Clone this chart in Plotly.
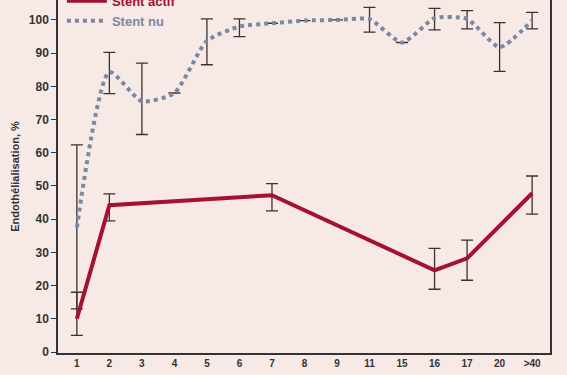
import plotly.graph_objects as go

categories = ["1", "2", "3", "4", "5", "6", "7", "8", "9", "11", "15", "16", "17", "20", ">40"]

# Stent actif (drug-eluting stent)
actif_vals = [10, 44.2, None, None, None, None, 47.2, None, None, None, None, 24.6, 28.2, None, 47.8]
actif_hi   = [18, 47.6, None, None, None, None, 50.7, None, None, None, None, 31.2, 33.7, None, 53.0]
actif_lo   = [5, 39.5, None, None, None, None, 42.5, None, None, None, None, 18.9, 21.6, None, 41.5]

# Stent nu (bare-metal stent)
nu_vals = [37.5, 84.3, 75.5, 78, 93.7, 98, 99, 99.8, 100, 100.2, 93.2, 100.5, 100.3, 91.8, 99.8]
nu_hi   = [62.4, 90.2, 87, None, 100.3, 100.3, None, None, None, 103.8, None, 103.5, 102.8, 99.2, 102.3]
nu_lo   = [13, 77.8, 65.5, None, 86.5, 95, None, None, None, 96.3, None, 97, 97.3, 84.5, 97.3]

RED = "#a3122f"
BLUE = "#7b88a3"
ERR = "#3d3131"
BG = "#f7e9e6"


def err_up(v, hi):
    return [None if (a is None or b is None) else b - a for a, b in zip(v, hi)]


def err_dn(v, lo):
    return [None if (a is None or b is None) else a - b for a, b in zip(v, lo)]


fig = go.Figure()

fig.add_trace(go.Scatter(
    x=categories, y=nu_vals, mode="lines",
    name="<b><span style='color:%s'>Stent nu</span></b>" % BLUE,
    line=dict(color=BLUE, width=4, dash="4px,4px", shape="spline", smoothing=0.6),
    error_y=dict(type="data", symmetric=False,
                 array=err_up(nu_vals, nu_hi), arrayminus=err_dn(nu_vals, nu_lo),
                 color=ERR, thickness=1.3, width=6),
    legendrank=2,
))

fig.add_trace(go.Scatter(
    x=categories, y=actif_vals, mode="lines", connectgaps=True,
    name="<b><span style='color:%s'>Stent actif</span></b>" % RED,
    line=dict(color=RED, width=4),
    error_y=dict(type="data", symmetric=False,
                 array=err_up(actif_vals, actif_hi), arrayminus=err_dn(actif_vals, actif_lo),
                 color=ERR, thickness=1.3, width=6),
    legendrank=1,
))

fig.update_layout(
    width=567, height=375,
    margin=dict(l=58, r=17, t=0, b=22, autoexpand=False),
    paper_bgcolor=BG, plot_bgcolor=BG,
    font=dict(family="Liberation Sans", color="#333333"),
    showlegend=True,
    legend=dict(x=0.008, y=1.04, xanchor="left", yanchor="top",
                bgcolor="rgba(0,0,0,0)", font=dict(size=13, family="Liberation Sans"),
                tracegroupgap=0, itemwidth=40),
    xaxis=dict(
        type="category", categoryorder="array", categoryarray=categories,
        range=[-0.58, 14.55], showgrid=False, zeroline=False,
        showline=True, linecolor="#333333", linewidth=1.5,
        ticks="", tickfont=dict(size=10, weight="bold", color="#333333"),
    ),
    yaxis=dict(
        range=[-0.3, 106], tickvals=[0, 10, 20, 30, 40, 50, 60, 70, 80, 90, 100],
        showgrid=False, zeroline=False,
        showline=True, linecolor="#333333", linewidth=1.5, mirror=True,
        ticks="outside", ticklen=5, tickcolor="#333333", tickwidth=1.2,
        tickfont=dict(size=12, weight="bold", color="#333333"),
        title=dict(text="Endothélialisation, %", standoff=7,
                   font=dict(size=11, weight="bold", color="#333333")),
    ),
)

fig.write_html("out.html", config={"displayModeBar": False},
               post_script="document.body.style.margin='0';document.body.style.background='%s';" % BG)
